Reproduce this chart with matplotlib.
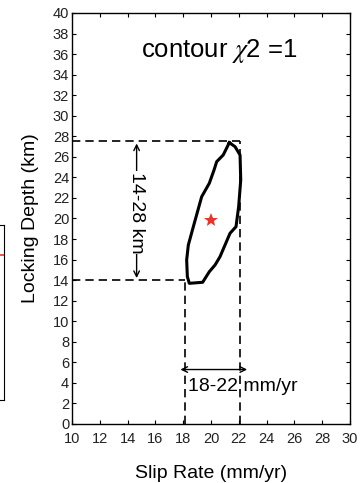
import numpy as np
import matplotlib
matplotlib.use('Agg')
from matplotlib import pyplot as plt

plt.rcParams['font.family'] = ['Liberation Sans', 'DejaVu Sans']
plt.rcParams['mathtext.fontset'] = 'stix'

# chi2 = 1 contour in (slip rate, locking depth)
slip = [21.32, 21.73, 22.09, 22.14, 21.99, 21.80, 21.37, 20.65, 20.29, 19.88,
        19.40, 18.44, 18.30, 18.25, 18.37, 18.73, 19.33, 19.88, 20.22, 20.41,
        20.88, 21.32]
depth = [27.38, 26.99, 26.18, 23.75, 21.15, 19.20, 18.56, 16.28, 15.47, 14.82,
         13.79, 13.69, 14.34, 15.96, 17.42, 19.20, 22.12, 23.43, 24.72, 25.53,
         26.18, 27.38]

best_slip = 20.0
best_depth = 19.85

slip_range = [18.1, 22.1]
depth_range = [14.0, 27.5]

xticks = np.arange(10, 31, 2)
yticks = np.arange(0, 41, 2)

fig = plt.figure(figsize=(3.61, 4.83), dpi=100)
ax = fig.add_axes([0.1994, 0.1222, 0.7701, 0.8509])

dash = dict(color='black', lw=1.2, dashes=(5, 3))
ax.plot([10, slip_range[1]], [depth_range[1], depth_range[1]], **dash)
ax.plot([10, slip_range[0]], [depth_range[0], depth_range[0]], **dash)
ax.plot([slip_range[0], slip_range[0]], [0, depth_range[0]], **dash)
ax.plot([slip_range[1], slip_range[1]], [0, depth_range[1]], **dash)

ax.plot(slip, depth, color='black', lw=2.2, solid_joinstyle='round')
ax.plot(best_slip, best_depth, marker='*', color='#e8352b', markersize=10,
        markeredgewidth=0)

# range arrows
ax.annotate('', xy=(14.65, depth_range[1] - 0.2), xytext=(14.65, depth_range[0] + 0.2),
            arrowprops=dict(arrowstyle='<->', color='black', lw=1.0,
                            shrinkA=0, shrinkB=0))
ax.text(14.65, 20.6, '%d-%d km' % (round(depth_range[0]), round(depth_range[1] + 0.5)),
        rotation=270, ha='center', va='center', fontsize=14,
        bbox=dict(facecolor='white', edgecolor='none', pad=0.5))
ax.annotate('', xy=(22.6, 5.3), xytext=(17.8, 5.3),
            arrowprops=dict(arrowstyle='<->', color='black', lw=1.0,
                            shrinkA=0, shrinkB=0))
ax.text(18.35, 3.6, '18-22 mm/yr', ha='left', va='center', fontsize=14)

ax.text(15.0, 35.7, r'contour $\chi$2 =1', ha='left', va='baseline', fontsize=18.5)

ax.set_xlim(10, 30)
ax.set_ylim(0, 40)
ax.set_xticks(xticks)
ax.set_yticks(yticks)
ax.tick_params(direction='in', length=3, width=0.8, top=True, right=True,
               labelsize=10.5, pad=2, labelcolor='#222222')
ax.tick_params(axis='x', pad=5.5)
for s in ax.spines.values():
    s.set_linewidth(1.0)
ax.set_xlabel('Slip Rate (mm/yr)', fontsize=14, labelpad=14)
ax.set_ylabel('Locking Depth (km)', fontsize=14, labelpad=10)

# edge of the neighbouring panel
side = fig.add_axes([-0.05, 83 / 483, 0.05 + 3.5 / 361, 175 / 483])
side.set_xlim(0, 1)
side.set_ylim(0, 1)
side.plot([0.7, 1.0], [0.83, 0.83], color='#e8352b', lw=1.2)
side.set_xticks([])
side.set_yticks([])

fig.savefig('out.png', dpi=100)
